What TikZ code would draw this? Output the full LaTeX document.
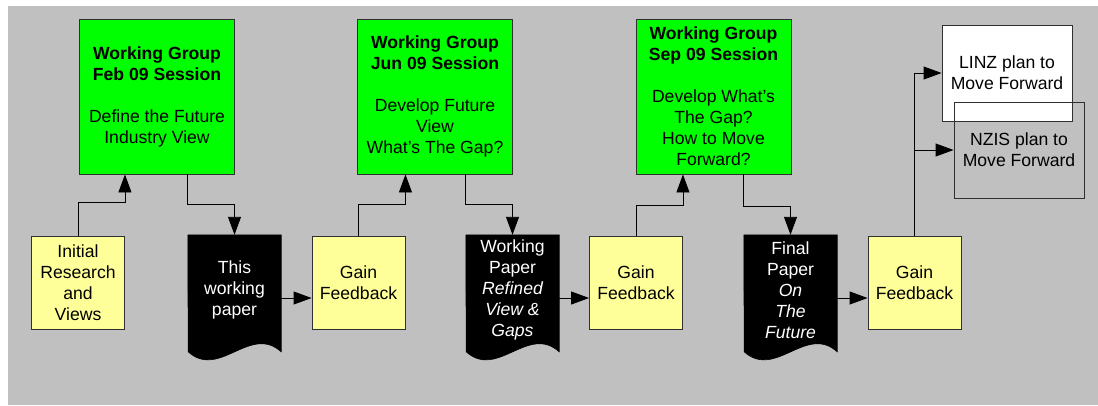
\documentclass[tikz,border=0pt]{standalone}
\usepackage{fontspec}
\setmainfont{Liberation Sans}
\usetikzlibrary{arrows.meta,calc}

\definecolor{canvas}{HTML}{C0C0C0}
\definecolor{session}{HTML}{00FF00}
\definecolor{note}{HTML}{FFFF99}
\definecolor{edge}{HTML}{303030}

\tikzset{
  every node/.style={font=\fontsize{17.6}{21}\selectfont, align=center, inner sep=0pt},
  sessionbox/.style={draw=edge, line width=0.9pt, fill=session, minimum width=155pt, minimum height=155pt},
  notebox/.style={draw=edge, line width=0.9pt, fill=note, minimum width=93pt, minimum height=93pt},
  docframe/.style={minimum width=93pt, minimum height=126pt},
  docfill/.style={fill=black, draw=black, line width=0.6pt},
  doctext/.style={text=white},
  planbox/.style={draw=edge, line width=0.9pt, minimum width=130pt, minimum height=96pt},
  arr/.style={draw=black, line width=0.9pt, -{Triangle[length=18pt,width=13pt]}},
}

% page shape of a document box: flat top, wavy bottom
\newcommand{\docshape}[1]{%
  \path[docfill] (#1.north west) -- (#1.north east) -- ++(0,117)
    .. controls ++(-31,-28) and ++(31,28) .. ++(-93,0) -- cycle;}

\begin{document}
\begin{tikzpicture}[x=1pt,y=-1pt]
\useasboundingbox (0,0) rectangle (1098,405);
\fill[canvas] (8,6) rectangle (1098,405);

% sessions
\node[sessionbox] (w1) at (157,96.5) {\textbf{Working Group}\\\textbf{Feb 09 Session}\\[21pt]Define the Future\\Industry View};
\node[sessionbox] (w2) at (435,96.5) {\textbf{Working Group}\\\textbf{Jun 09 Session}\\[21pt]Develop Future\\View\\What’s The Gap?};
\node[sessionbox] (w3) at (713.5,96.5) {\textbf{Working Group}\\\textbf{Sep 09 Session}\\[21pt]Develop What’s\\The Gap?\\How to Move\\Forward?};

% input and feedback steps
\node[notebox] (i)  at (78,282.5)  {Initial\\Research\\and\\Views};
\node[notebox] (g1) at (358.5,282.5) {Gain\\Feedback};
\node[notebox] (g2) at (636,282.5) {Gain\\Feedback};
\node[notebox] (g3) at (914.5,282.5) {Gain\\Feedback};

% papers
\node[docframe] (d1) at (234.5,298) {};
\node[docframe] (d2) at (512.5,298) {};
\node[docframe] (d3) at (790.5,298) {};
\docshape{d1}
\docshape{d2}
\docshape{d3}
\node[doctext] (d1t) at (234.5,290) {This\\working\\paper};
\node[doctext] (d2t) at (512.5,290) {Working\\Paper\\\itshape Refined\\\itshape View \&\\\itshape Gaps};
\node[doctext] (d3t) at (790.5,290) {Final\\Paper\\\itshape On\\\itshape The\\\itshape Future};

% plans
\node[planbox, fill=white] (l) at (1007,73) {LINZ plan to\\Move Forward};
\node[planbox] (n) at (1019,150) {NZIS plan to\\Move Forward};

% flow
\draw[arr] (i.north) -- ++(0,-33) -| (i.east |- w1.south);
\draw[arr] (w1.south -| d1.west) -- ++(0,30) -| (d1.north);
\draw[arr] (d1.east) -- (d1.east -| g1.west);

\draw[arr] (g1.north) -- ++(0,-31) -| (g1.east |- w2.south);
\draw[arr] (w2.south -| d2.west) -- ++(0,30) -| (d2.north);
\draw[arr] (d2.east) -- (d2.east -| g2.west);

\draw[arr] (g2.north) -- ++(0,-30) -| (g2.east |- w3.south);
\draw[arr] (w3.south -| d3.west) -- ++(0,32) -| (d3.north);
\draw[arr] (d3.east) -- (d3.east -| g3.west);

\draw[arr] (g3.north) |- (l.west);
\coordinate (split) at (g3.north |- n.west);
\draw[arr] (split) -- (n.west);
\end{tikzpicture}
\end{document}
